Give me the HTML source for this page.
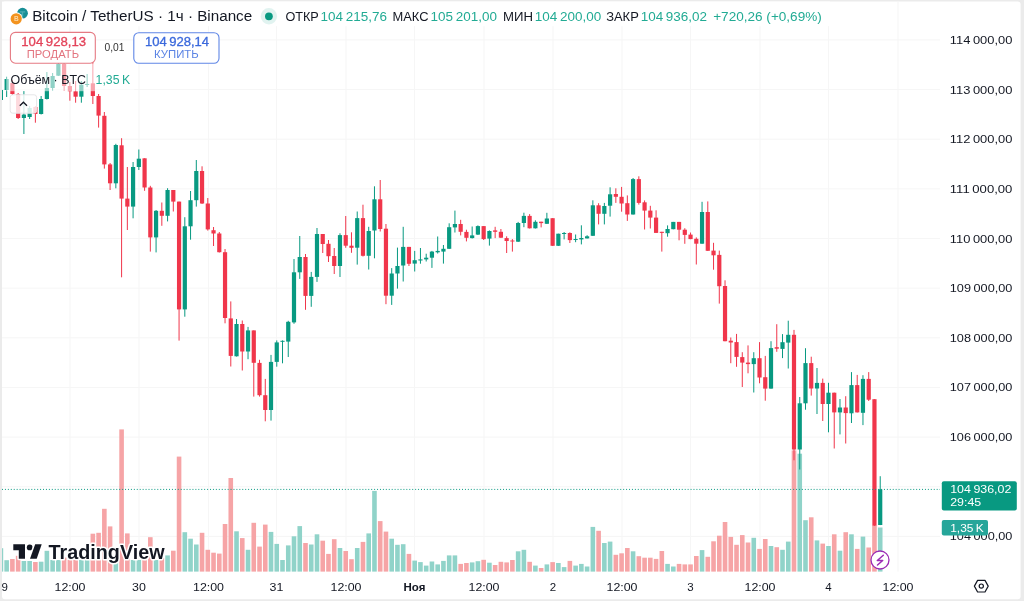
<!DOCTYPE html><html><head><meta charset="utf-8"><style>html,body{margin:0;padding:0;background:#ebebeb;}svg{display:block;will-change:transform;font-family:"Liberation Sans",sans-serif;}</style></head><body>
<svg width="1024" height="601" viewBox="0 0 1024 601">
<rect x="0" y="0" width="1024" height="601" fill="#ebebeb"/>
<rect x="2" y="1.6" width="1018.6" height="597.6" rx="3" fill="#ffffff"/>
<defs><clipPath id="pane"><rect x="2" y="1.6" width="938" height="570.2"/></clipPath></defs>
<g clip-path="url(#pane)"><rect x="2" y="39.40" width="938" height="1" fill="#f6f6f6"/><rect x="2" y="89.05" width="938" height="1" fill="#f6f6f6"/><rect x="2" y="138.70" width="938" height="1" fill="#f6f6f6"/><rect x="2" y="188.35" width="938" height="1" fill="#f6f6f6"/><rect x="2" y="238.00" width="938" height="1" fill="#f6f6f6"/><rect x="2" y="287.65" width="938" height="1" fill="#f6f6f6"/><rect x="2" y="337.30" width="938" height="1" fill="#f6f6f6"/><rect x="2" y="386.95" width="938" height="1" fill="#f6f6f6"/><rect x="2" y="436.60" width="938" height="1" fill="#f6f6f6"/><rect x="2" y="486.25" width="938" height="1" fill="#f6f6f6"/><rect x="2" y="535.90" width="938" height="1" fill="#f6f6f6"/><rect x="69.50" y="1.6" width="1" height="570.2" fill="#f6f6f6"/><rect x="138.50" y="1.6" width="1" height="570.2" fill="#f6f6f6"/><rect x="208.00" y="1.6" width="1" height="570.2" fill="#f6f6f6"/><rect x="276.00" y="1.6" width="1" height="570.2" fill="#f6f6f6"/><rect x="345.50" y="1.6" width="1" height="570.2" fill="#f6f6f6"/><rect x="414.00" y="1.6" width="1" height="570.2" fill="#f6f6f6"/><rect x="483.50" y="1.6" width="1" height="570.2" fill="#f6f6f6"/><rect x="552.50" y="1.6" width="1" height="570.2" fill="#f6f6f6"/><rect x="621.50" y="1.6" width="1" height="570.2" fill="#f6f6f6"/><rect x="690.00" y="1.6" width="1" height="570.2" fill="#f6f6f6"/><rect x="759.50" y="1.6" width="1" height="570.2" fill="#f6f6f6"/><rect x="828.00" y="1.6" width="1" height="570.2" fill="#f6f6f6"/><rect x="897.50" y="1.6" width="1" height="570.2" fill="#f6f6f6"/>
<rect x="-1.40" y="548.20" width="4.6" height="23.60" fill="#90d3c9"/><rect x="4.35" y="560.20" width="4.6" height="11.60" fill="#90d3c9"/><rect x="10.09" y="559.00" width="4.6" height="12.80" fill="#f6a4a6"/><rect x="15.84" y="555.80" width="4.6" height="16.00" fill="#f6a4a6"/><rect x="21.59" y="561.00" width="4.6" height="10.80" fill="#90d3c9"/><rect x="27.34" y="561.00" width="4.6" height="10.80" fill="#90d3c9"/><rect x="33.08" y="562.00" width="4.6" height="9.80" fill="#f6a4a6"/><rect x="38.83" y="561.70" width="4.6" height="10.10" fill="#90d3c9"/><rect x="44.58" y="550.80" width="4.6" height="21.00" fill="#90d3c9"/><rect x="50.32" y="560.00" width="4.6" height="11.80" fill="#90d3c9"/><rect x="56.07" y="560.00" width="4.6" height="11.80" fill="#90d3c9"/><rect x="61.82" y="557.60" width="4.6" height="14.20" fill="#f6a4a6"/><rect x="67.57" y="560.00" width="4.6" height="11.80" fill="#f6a4a6"/><rect x="73.31" y="560.00" width="4.6" height="11.80" fill="#f6a4a6"/><rect x="79.06" y="560.00" width="4.6" height="11.80" fill="#90d3c9"/><rect x="84.81" y="560.00" width="4.6" height="11.80" fill="#90d3c9"/><rect x="90.55" y="533.70" width="4.6" height="38.10" fill="#f6a4a6"/><rect x="96.30" y="532.80" width="4.6" height="39.00" fill="#f6a4a6"/><rect x="102.05" y="508.80" width="4.6" height="63.00" fill="#f6a4a6"/><rect x="107.79" y="526.40" width="4.6" height="45.40" fill="#f6a4a6"/><rect x="113.54" y="562.00" width="4.6" height="9.80" fill="#90d3c9"/><rect x="119.29" y="429.40" width="4.6" height="142.40" fill="#f6a4a6"/><rect x="125.04" y="533.40" width="4.6" height="38.40" fill="#f6a4a6"/><rect x="130.78" y="560.00" width="4.6" height="11.80" fill="#90d3c9"/><rect x="136.53" y="560.00" width="4.6" height="11.80" fill="#90d3c9"/><rect x="142.28" y="560.00" width="4.6" height="11.80" fill="#f6a4a6"/><rect x="148.02" y="537.20" width="4.6" height="34.60" fill="#f6a4a6"/><rect x="153.77" y="560.00" width="4.6" height="11.80" fill="#90d3c9"/><rect x="159.52" y="558.00" width="4.6" height="13.80" fill="#f6a4a6"/><rect x="165.27" y="555.40" width="4.6" height="16.40" fill="#90d3c9"/><rect x="171.01" y="550.70" width="4.6" height="21.10" fill="#f6a4a6"/><rect x="176.76" y="456.60" width="4.6" height="115.20" fill="#f6a4a6"/><rect x="182.51" y="532.20" width="4.6" height="39.60" fill="#90d3c9"/><rect x="188.25" y="538.70" width="4.6" height="33.10" fill="#90d3c9"/><rect x="194.00" y="544.50" width="4.6" height="27.30" fill="#90d3c9"/><rect x="199.75" y="532.80" width="4.6" height="39.00" fill="#f6a4a6"/><rect x="205.50" y="549.80" width="4.6" height="22.00" fill="#f6a4a6"/><rect x="211.24" y="552.70" width="4.6" height="19.10" fill="#f6a4a6"/><rect x="216.99" y="553.60" width="4.6" height="18.20" fill="#f6a4a6"/><rect x="222.74" y="524.00" width="4.6" height="47.80" fill="#f6a4a6"/><rect x="228.48" y="478.00" width="4.6" height="93.80" fill="#f6a4a6"/><rect x="234.23" y="531.30" width="4.6" height="40.50" fill="#90d3c9"/><rect x="239.98" y="538.10" width="4.6" height="33.70" fill="#f6a4a6"/><rect x="245.73" y="549.80" width="4.6" height="22.00" fill="#90d3c9"/><rect x="251.47" y="522.80" width="4.6" height="49.00" fill="#f6a4a6"/><rect x="257.22" y="546.60" width="4.6" height="25.20" fill="#f6a4a6"/><rect x="262.97" y="524.60" width="4.6" height="47.20" fill="#f6a4a6"/><rect x="268.71" y="531.90" width="4.6" height="39.90" fill="#90d3c9"/><rect x="274.46" y="543.90" width="4.6" height="27.90" fill="#90d3c9"/><rect x="280.21" y="560.00" width="4.6" height="11.80" fill="#90d3c9"/><rect x="285.95" y="545.40" width="4.6" height="26.40" fill="#90d3c9"/><rect x="291.70" y="536.30" width="4.6" height="35.50" fill="#90d3c9"/><rect x="297.45" y="526.10" width="4.6" height="45.70" fill="#90d3c9"/><rect x="303.20" y="543.00" width="4.6" height="28.80" fill="#f6a4a6"/><rect x="308.94" y="544.50" width="4.6" height="27.30" fill="#90d3c9"/><rect x="314.69" y="534.30" width="4.6" height="37.50" fill="#90d3c9"/><rect x="320.44" y="540.70" width="4.6" height="31.10" fill="#f6a4a6"/><rect x="326.18" y="553.90" width="4.6" height="17.90" fill="#f6a4a6"/><rect x="331.93" y="539.20" width="4.6" height="32.60" fill="#f6a4a6"/><rect x="337.68" y="548.00" width="4.6" height="23.80" fill="#90d3c9"/><rect x="343.43" y="551.00" width="4.6" height="20.80" fill="#f6a4a6"/><rect x="349.17" y="559.20" width="4.6" height="12.60" fill="#f6a4a6"/><rect x="354.92" y="548.00" width="4.6" height="23.80" fill="#90d3c9"/><rect x="360.67" y="541.90" width="4.6" height="29.90" fill="#f6a4a6"/><rect x="366.41" y="533.40" width="4.6" height="38.40" fill="#90d3c9"/><rect x="372.16" y="490.90" width="4.6" height="80.90" fill="#90d3c9"/><rect x="377.91" y="521.10" width="4.6" height="50.70" fill="#f6a4a6"/><rect x="383.66" y="531.60" width="4.6" height="40.20" fill="#f6a4a6"/><rect x="389.40" y="538.70" width="4.6" height="33.10" fill="#90d3c9"/><rect x="395.15" y="544.80" width="4.6" height="27.00" fill="#90d3c9"/><rect x="400.90" y="544.20" width="4.6" height="27.60" fill="#90d3c9"/><rect x="406.64" y="553.90" width="4.6" height="17.90" fill="#f6a4a6"/><rect x="412.39" y="560.60" width="4.6" height="11.20" fill="#90d3c9"/><rect x="418.14" y="562.10" width="4.6" height="9.70" fill="#90d3c9"/><rect x="423.89" y="565.60" width="4.6" height="6.20" fill="#90d3c9"/><rect x="429.63" y="561.50" width="4.6" height="10.30" fill="#90d3c9"/><rect x="435.38" y="564.40" width="4.6" height="7.40" fill="#90d3c9"/><rect x="441.13" y="560.90" width="4.6" height="10.90" fill="#90d3c9"/><rect x="446.87" y="555.40" width="4.6" height="16.40" fill="#90d3c9"/><rect x="452.62" y="555.40" width="4.6" height="16.40" fill="#90d3c9"/><rect x="458.37" y="563.90" width="4.6" height="7.90" fill="#f6a4a6"/><rect x="464.12" y="563.00" width="4.6" height="8.80" fill="#f6a4a6"/><rect x="469.86" y="562.40" width="4.6" height="9.40" fill="#90d3c9"/><rect x="475.61" y="561.20" width="4.6" height="10.60" fill="#90d3c9"/><rect x="481.36" y="559.80" width="4.6" height="12.00" fill="#f6a4a6"/><rect x="487.10" y="562.70" width="4.6" height="9.10" fill="#90d3c9"/><rect x="492.85" y="565.00" width="4.6" height="6.80" fill="#f6a4a6"/><rect x="498.60" y="561.80" width="4.6" height="10.00" fill="#f6a4a6"/><rect x="504.34" y="562.40" width="4.6" height="9.40" fill="#f6a4a6"/><rect x="510.09" y="560.00" width="4.6" height="11.80" fill="#f6a4a6"/><rect x="515.84" y="551.30" width="4.6" height="20.50" fill="#90d3c9"/><rect x="521.59" y="549.80" width="4.6" height="22.00" fill="#90d3c9"/><rect x="527.33" y="561.80" width="4.6" height="10.00" fill="#f6a4a6"/><rect x="533.08" y="565.60" width="4.6" height="6.20" fill="#90d3c9"/><rect x="538.83" y="568.00" width="4.6" height="3.80" fill="#f6a4a6"/><rect x="544.57" y="564.40" width="4.6" height="7.40" fill="#90d3c9"/><rect x="550.32" y="562.10" width="4.6" height="9.70" fill="#f6a4a6"/><rect x="556.07" y="563.00" width="4.6" height="8.80" fill="#90d3c9"/><rect x="561.82" y="567.10" width="4.6" height="4.70" fill="#90d3c9"/><rect x="567.56" y="560.90" width="4.6" height="10.90" fill="#f6a4a6"/><rect x="573.31" y="565.60" width="4.6" height="6.20" fill="#90d3c9"/><rect x="579.06" y="563.90" width="4.6" height="7.90" fill="#90d3c9"/><rect x="584.80" y="566.50" width="4.6" height="5.30" fill="#90d3c9"/><rect x="590.55" y="526.90" width="4.6" height="44.90" fill="#90d3c9"/><rect x="596.30" y="530.80" width="4.6" height="41.00" fill="#f6a4a6"/><rect x="602.05" y="543.00" width="4.6" height="28.80" fill="#90d3c9"/><rect x="607.79" y="541.60" width="4.6" height="30.20" fill="#90d3c9"/><rect x="613.54" y="554.80" width="4.6" height="17.00" fill="#f6a4a6"/><rect x="619.29" y="553.30" width="4.6" height="18.50" fill="#f6a4a6"/><rect x="625.03" y="548.00" width="4.6" height="23.80" fill="#f6a4a6"/><rect x="630.78" y="551.30" width="4.6" height="20.50" fill="#90d3c9"/><rect x="636.53" y="556.20" width="4.6" height="15.60" fill="#f6a4a6"/><rect x="642.28" y="557.70" width="4.6" height="14.10" fill="#f6a4a6"/><rect x="648.02" y="557.70" width="4.6" height="14.10" fill="#f6a4a6"/><rect x="653.77" y="558.90" width="4.6" height="12.90" fill="#f6a4a6"/><rect x="659.52" y="551.00" width="4.6" height="20.80" fill="#f6a4a6"/><rect x="665.26" y="563.90" width="4.6" height="7.90" fill="#90d3c9"/><rect x="671.01" y="566.50" width="4.6" height="5.30" fill="#90d3c9"/><rect x="676.76" y="563.90" width="4.6" height="7.90" fill="#f6a4a6"/><rect x="682.50" y="564.40" width="4.6" height="7.40" fill="#f6a4a6"/><rect x="688.25" y="564.40" width="4.6" height="7.40" fill="#f6a4a6"/><rect x="694.00" y="556.00" width="4.6" height="15.80" fill="#f6a4a6"/><rect x="699.75" y="550.10" width="4.6" height="21.70" fill="#90d3c9"/><rect x="705.49" y="556.80" width="4.6" height="15.00" fill="#f6a4a6"/><rect x="711.24" y="541.30" width="4.6" height="30.50" fill="#f6a4a6"/><rect x="716.99" y="535.70" width="4.6" height="36.10" fill="#f6a4a6"/><rect x="722.73" y="522.00" width="4.6" height="49.80" fill="#f6a4a6"/><rect x="728.48" y="536.90" width="4.6" height="34.90" fill="#f6a4a6"/><rect x="734.23" y="544.80" width="4.6" height="27.00" fill="#f6a4a6"/><rect x="739.98" y="535.10" width="4.6" height="36.70" fill="#f6a4a6"/><rect x="745.72" y="542.50" width="4.6" height="29.30" fill="#f6a4a6"/><rect x="751.47" y="537.80" width="4.6" height="34.00" fill="#90d3c9"/><rect x="757.22" y="548.90" width="4.6" height="22.90" fill="#f6a4a6"/><rect x="762.96" y="539.00" width="4.6" height="32.80" fill="#f6a4a6"/><rect x="768.71" y="546.00" width="4.6" height="25.80" fill="#90d3c9"/><rect x="774.46" y="547.20" width="4.6" height="24.60" fill="#f6a4a6"/><rect x="780.21" y="549.80" width="4.6" height="22.00" fill="#90d3c9"/><rect x="785.95" y="541.60" width="4.6" height="30.20" fill="#90d3c9"/><rect x="791.70" y="450.40" width="4.6" height="121.40" fill="#f6a4a6"/><rect x="797.45" y="453.70" width="4.6" height="118.10" fill="#90d3c9"/><rect x="803.19" y="520.20" width="4.6" height="51.60" fill="#90d3c9"/><rect x="808.94" y="517.30" width="4.6" height="54.50" fill="#f6a4a6"/><rect x="814.69" y="540.40" width="4.6" height="31.40" fill="#90d3c9"/><rect x="820.44" y="543.60" width="4.6" height="28.20" fill="#f6a4a6"/><rect x="826.18" y="546.00" width="4.6" height="25.80" fill="#90d3c9"/><rect x="831.93" y="534.30" width="4.6" height="37.50" fill="#f6a4a6"/><rect x="837.68" y="550.70" width="4.6" height="21.10" fill="#90d3c9"/><rect x="843.42" y="532.20" width="4.6" height="39.60" fill="#f6a4a6"/><rect x="849.17" y="534.30" width="4.6" height="37.50" fill="#90d3c9"/><rect x="854.92" y="548.90" width="4.6" height="22.90" fill="#f6a4a6"/><rect x="860.66" y="536.60" width="4.6" height="35.20" fill="#90d3c9"/><rect x="866.41" y="547.50" width="4.6" height="24.30" fill="#f6a4a6"/><rect x="872.16" y="525.50" width="4.6" height="46.30" fill="#f6a4a6"/><rect x="877.91" y="527.50" width="4.6" height="44.30" fill="#90d3c9"/>
<rect x="0.40" y="88.00" width="1" height="13.00" fill="#089981"/><rect x="-1.20" y="90.00" width="4.2" height="10.00" fill="#089981"/><rect x="6.15" y="76.70" width="1" height="20.30" fill="#089981"/><rect x="4.55" y="79.00" width="4.2" height="11.00" fill="#089981"/><rect x="11.89" y="80.00" width="1" height="15.00" fill="#f0364b"/><rect x="10.29" y="83.00" width="4.2" height="11.00" fill="#f0364b"/><rect x="17.64" y="93.00" width="1" height="26.00" fill="#f0364b"/><rect x="16.04" y="94.00" width="4.2" height="24.00" fill="#f0364b"/><rect x="23.39" y="91.00" width="1" height="43.00" fill="#089981"/><rect x="21.79" y="114.60" width="4.2" height="3.40" fill="#089981"/><rect x="29.14" y="106.00" width="1" height="13.00" fill="#089981"/><rect x="27.54" y="108.00" width="4.2" height="9.00" fill="#089981"/><rect x="34.88" y="106.00" width="1" height="16.70" fill="#f0364b"/><rect x="33.28" y="107.00" width="4.2" height="7.00" fill="#f0364b"/><rect x="40.63" y="96.00" width="1" height="18.50" fill="#089981"/><rect x="39.03" y="99.00" width="4.2" height="15.00" fill="#089981"/><rect x="46.38" y="72.00" width="1" height="27.50" fill="#089981"/><rect x="44.78" y="88.00" width="4.2" height="11.00" fill="#089981"/><rect x="52.12" y="73.00" width="1" height="17.70" fill="#089981"/><rect x="50.52" y="76.00" width="4.2" height="12.00" fill="#089981"/><rect x="57.87" y="62.00" width="1" height="14.00" fill="#089981"/><rect x="56.27" y="64.00" width="4.2" height="11.70" fill="#089981"/><rect x="63.62" y="62.00" width="1" height="29.00" fill="#f0364b"/><rect x="62.02" y="64.00" width="4.2" height="22.00" fill="#f0364b"/><rect x="69.37" y="82.00" width="1" height="18.70" fill="#f0364b"/><rect x="67.77" y="86.00" width="4.2" height="5.30" fill="#f0364b"/><rect x="75.11" y="81.00" width="1" height="21.70" fill="#f0364b"/><rect x="73.51" y="91.30" width="4.2" height="5.40" fill="#f0364b"/><rect x="80.86" y="81.00" width="1" height="21.70" fill="#089981"/><rect x="79.26" y="84.70" width="4.2" height="12.00" fill="#089981"/><rect x="86.61" y="74.00" width="1" height="13.00" fill="#089981"/><rect x="85.01" y="84.00" width="4.2" height="1.00" fill="#089981"/><rect x="92.35" y="58.00" width="1" height="46.00" fill="#f0364b"/><rect x="90.75" y="83.30" width="4.2" height="12.70" fill="#f0364b"/><rect x="98.10" y="94.00" width="1" height="33.60" fill="#f0364b"/><rect x="96.50" y="96.00" width="4.2" height="19.60" fill="#f0364b"/><rect x="103.85" y="112.00" width="1" height="56.60" fill="#f0364b"/><rect x="102.25" y="115.80" width="4.2" height="48.60" fill="#f0364b"/><rect x="109.59" y="163.00" width="1" height="27.00" fill="#f0364b"/><rect x="107.99" y="164.40" width="4.2" height="18.90" fill="#f0364b"/><rect x="115.34" y="143.80" width="1" height="44.50" fill="#089981"/><rect x="113.74" y="145.00" width="4.2" height="38.30" fill="#089981"/><rect x="121.09" y="138.20" width="1" height="139.10" fill="#f0364b"/><rect x="119.49" y="145.30" width="4.2" height="53.30" fill="#f0364b"/><rect x="126.84" y="167.00" width="1" height="63.00" fill="#f0364b"/><rect x="125.24" y="198.60" width="4.2" height="8.00" fill="#f0364b"/><rect x="132.58" y="162.00" width="1" height="56.30" fill="#089981"/><rect x="130.98" y="167.00" width="4.2" height="39.60" fill="#089981"/><rect x="138.33" y="149.50" width="1" height="20.50" fill="#089981"/><rect x="136.73" y="158.70" width="4.2" height="8.30" fill="#089981"/><rect x="144.08" y="158.30" width="1" height="32.50" fill="#f0364b"/><rect x="142.48" y="158.30" width="4.2" height="29.20" fill="#f0364b"/><rect x="149.82" y="185.80" width="1" height="65.80" fill="#f0364b"/><rect x="148.22" y="187.50" width="4.2" height="49.90" fill="#f0364b"/><rect x="155.57" y="210.00" width="1" height="42.40" fill="#089981"/><rect x="153.97" y="210.80" width="4.2" height="26.60" fill="#089981"/><rect x="161.32" y="202.50" width="1" height="23.30" fill="#f0364b"/><rect x="159.72" y="210.80" width="4.2" height="5.00" fill="#f0364b"/><rect x="167.07" y="188.20" width="1" height="33.20" fill="#089981"/><rect x="165.47" y="190.00" width="4.2" height="25.80" fill="#089981"/><rect x="172.81" y="190.00" width="1" height="21.50" fill="#f0364b"/><rect x="171.21" y="190.00" width="4.2" height="11.60" fill="#f0364b"/><rect x="178.56" y="201.60" width="1" height="139.00" fill="#f0364b"/><rect x="176.96" y="201.60" width="4.2" height="107.80" fill="#f0364b"/><rect x="184.31" y="217.20" width="1" height="99.50" fill="#089981"/><rect x="182.71" y="226.30" width="4.2" height="83.10" fill="#089981"/><rect x="190.05" y="191.00" width="1" height="48.70" fill="#089981"/><rect x="188.45" y="200.20" width="4.2" height="26.10" fill="#089981"/><rect x="195.80" y="160.00" width="1" height="46.60" fill="#089981"/><rect x="194.20" y="171.00" width="4.2" height="29.20" fill="#089981"/><rect x="201.55" y="166.30" width="1" height="37.70" fill="#f0364b"/><rect x="199.95" y="171.00" width="4.2" height="32.50" fill="#f0364b"/><rect x="207.30" y="198.00" width="1" height="32.60" fill="#f0364b"/><rect x="205.70" y="203.50" width="4.2" height="25.90" fill="#f0364b"/><rect x="213.04" y="227.00" width="1" height="19.00" fill="#f0364b"/><rect x="211.44" y="230.20" width="4.2" height="3.30" fill="#f0364b"/><rect x="218.79" y="232.00" width="1" height="20.50" fill="#f0364b"/><rect x="217.19" y="233.50" width="4.2" height="18.70" fill="#f0364b"/><rect x="224.54" y="249.00" width="1" height="74.30" fill="#f0364b"/><rect x="222.94" y="252.20" width="4.2" height="65.80" fill="#f0364b"/><rect x="230.28" y="301.40" width="1" height="65.10" fill="#f0364b"/><rect x="228.68" y="318.40" width="4.2" height="37.50" fill="#f0364b"/><rect x="236.03" y="319.00" width="1" height="37.50" fill="#089981"/><rect x="234.43" y="324.00" width="4.2" height="32.30" fill="#089981"/><rect x="241.78" y="320.50" width="1" height="50.00" fill="#f0364b"/><rect x="240.18" y="324.00" width="4.2" height="27.50" fill="#f0364b"/><rect x="247.53" y="326.90" width="1" height="32.30" fill="#089981"/><rect x="245.93" y="330.40" width="4.2" height="21.10" fill="#089981"/><rect x="253.27" y="330.40" width="1" height="66.20" fill="#f0364b"/><rect x="251.67" y="330.40" width="4.2" height="32.40" fill="#f0364b"/><rect x="259.02" y="359.80" width="1" height="36.80" fill="#f0364b"/><rect x="257.42" y="362.90" width="4.2" height="32.30" fill="#f0364b"/><rect x="264.77" y="378.90" width="1" height="42.40" fill="#f0364b"/><rect x="263.17" y="395.20" width="4.2" height="14.80" fill="#f0364b"/><rect x="270.51" y="354.90" width="1" height="65.70" fill="#089981"/><rect x="268.91" y="361.90" width="4.2" height="48.10" fill="#089981"/><rect x="276.26" y="340.40" width="1" height="26.30" fill="#089981"/><rect x="274.66" y="342.40" width="4.2" height="19.50" fill="#089981"/><rect x="282.01" y="340.40" width="1" height="22.90" fill="#089981"/><rect x="280.41" y="340.80" width="4.2" height="1.00" fill="#089981"/><rect x="287.75" y="320.80" width="1" height="36.20" fill="#089981"/><rect x="286.15" y="321.80" width="4.2" height="19.80" fill="#089981"/><rect x="293.50" y="259.00" width="1" height="64.80" fill="#089981"/><rect x="291.90" y="272.30" width="4.2" height="50.10" fill="#089981"/><rect x="299.25" y="236.00" width="1" height="42.90" fill="#089981"/><rect x="297.65" y="257.00" width="4.2" height="15.30" fill="#089981"/><rect x="305.00" y="254.00" width="1" height="55.80" fill="#f0364b"/><rect x="303.40" y="257.00" width="4.2" height="38.90" fill="#f0364b"/><rect x="310.74" y="271.90" width="1" height="34.90" fill="#089981"/><rect x="309.14" y="276.90" width="4.2" height="19.00" fill="#089981"/><rect x="316.49" y="228.00" width="1" height="53.90" fill="#089981"/><rect x="314.89" y="234.00" width="4.2" height="42.90" fill="#089981"/><rect x="322.24" y="234.00" width="1" height="19.00" fill="#f0364b"/><rect x="320.64" y="234.00" width="4.2" height="10.00" fill="#f0364b"/><rect x="327.98" y="240.00" width="1" height="22.00" fill="#f0364b"/><rect x="326.38" y="243.80" width="4.2" height="12.40" fill="#f0364b"/><rect x="333.73" y="248.00" width="1" height="26.00" fill="#f0364b"/><rect x="332.13" y="256.00" width="4.2" height="10.00" fill="#f0364b"/><rect x="339.48" y="233.30" width="1" height="43.70" fill="#089981"/><rect x="337.88" y="235.10" width="4.2" height="30.90" fill="#089981"/><rect x="345.23" y="216.00" width="1" height="31.80" fill="#f0364b"/><rect x="343.63" y="235.10" width="4.2" height="10.60" fill="#f0364b"/><rect x="350.97" y="232.30" width="1" height="20.50" fill="#f0364b"/><rect x="349.37" y="245.70" width="4.2" height="2.10" fill="#f0364b"/><rect x="356.72" y="211.50" width="1" height="53.10" fill="#089981"/><rect x="355.12" y="218.10" width="4.2" height="29.60" fill="#089981"/><rect x="362.47" y="204.70" width="1" height="51.80" fill="#f0364b"/><rect x="360.87" y="218.10" width="4.2" height="37.70" fill="#f0364b"/><rect x="368.21" y="226.80" width="1" height="42.70" fill="#089981"/><rect x="366.61" y="231.00" width="4.2" height="24.80" fill="#089981"/><rect x="373.96" y="186.30" width="1" height="72.00" fill="#089981"/><rect x="372.36" y="199.30" width="4.2" height="31.20" fill="#089981"/><rect x="379.71" y="180.00" width="1" height="51.50" fill="#f0364b"/><rect x="378.11" y="199.30" width="4.2" height="29.70" fill="#f0364b"/><rect x="385.46" y="224.00" width="1" height="80.20" fill="#f0364b"/><rect x="383.86" y="228.70" width="4.2" height="67.00" fill="#f0364b"/><rect x="391.20" y="268.10" width="1" height="36.80" fill="#089981"/><rect x="389.60" y="273.50" width="4.2" height="22.20" fill="#089981"/><rect x="396.95" y="247.60" width="1" height="41.00" fill="#089981"/><rect x="395.35" y="266.00" width="4.2" height="7.50" fill="#089981"/><rect x="402.70" y="226.80" width="1" height="54.70" fill="#089981"/><rect x="401.10" y="246.90" width="4.2" height="18.60" fill="#089981"/><rect x="408.44" y="246.90" width="1" height="19.10" fill="#f0364b"/><rect x="406.84" y="246.90" width="4.2" height="16.90" fill="#f0364b"/><rect x="414.19" y="250.90" width="1" height="20.60" fill="#089981"/><rect x="412.59" y="260.20" width="4.2" height="3.40" fill="#089981"/><rect x="419.94" y="248.00" width="1" height="15.70" fill="#089981"/><rect x="418.34" y="259.40" width="4.2" height="1.10" fill="#089981"/><rect x="425.69" y="253.70" width="1" height="7.80" fill="#089981"/><rect x="424.09" y="257.70" width="4.2" height="1.70" fill="#089981"/><rect x="431.43" y="250.90" width="1" height="17.00" fill="#089981"/><rect x="429.83" y="251.60" width="4.2" height="6.10" fill="#089981"/><rect x="437.18" y="236.50" width="1" height="17.00" fill="#089981"/><rect x="435.58" y="250.90" width="4.2" height="1.40" fill="#089981"/><rect x="442.93" y="245.00" width="1" height="18.60" fill="#089981"/><rect x="441.33" y="248.80" width="4.2" height="2.80" fill="#089981"/><rect x="448.67" y="223.30" width="1" height="25.70" fill="#089981"/><rect x="447.07" y="227.20" width="4.2" height="21.60" fill="#089981"/><rect x="454.42" y="210.60" width="1" height="21.90" fill="#089981"/><rect x="452.82" y="224.00" width="4.2" height="3.40" fill="#089981"/><rect x="460.17" y="219.80" width="1" height="15.60" fill="#f0364b"/><rect x="458.57" y="224.00" width="4.2" height="7.80" fill="#f0364b"/><rect x="465.92" y="229.70" width="1" height="11.70" fill="#f0364b"/><rect x="464.32" y="231.90" width="4.2" height="5.90" fill="#f0364b"/><rect x="471.66" y="226.50" width="1" height="12.00" fill="#089981"/><rect x="470.06" y="235.40" width="4.2" height="2.70" fill="#089981"/><rect x="477.41" y="225.40" width="1" height="9.60" fill="#089981"/><rect x="475.81" y="226.10" width="4.2" height="8.50" fill="#089981"/><rect x="483.16" y="226.10" width="1" height="13.90" fill="#f0364b"/><rect x="481.56" y="226.10" width="4.2" height="13.00" fill="#f0364b"/><rect x="488.90" y="230.40" width="1" height="15.20" fill="#089981"/><rect x="487.30" y="231.00" width="4.2" height="7.60" fill="#089981"/><rect x="494.65" y="226.80" width="1" height="11.30" fill="#f0364b"/><rect x="493.05" y="230.40" width="4.2" height="1.40" fill="#f0364b"/><rect x="500.40" y="229.00" width="1" height="9.00" fill="#f0364b"/><rect x="498.80" y="231.80" width="4.2" height="5.90" fill="#f0364b"/><rect x="506.14" y="236.30" width="1" height="16.70" fill="#f0364b"/><rect x="504.54" y="238.10" width="4.2" height="2.90" fill="#f0364b"/><rect x="511.89" y="239.10" width="1" height="12.50" fill="#f0364b"/><rect x="510.29" y="240.50" width="4.2" height="1.00" fill="#f0364b"/><rect x="517.64" y="221.90" width="1" height="20.10" fill="#089981"/><rect x="516.04" y="223.00" width="4.2" height="18.70" fill="#089981"/><rect x="523.39" y="212.70" width="1" height="14.50" fill="#089981"/><rect x="521.79" y="215.90" width="4.2" height="7.10" fill="#089981"/><rect x="529.13" y="214.10" width="1" height="14.40" fill="#f0364b"/><rect x="527.53" y="215.90" width="4.2" height="12.40" fill="#f0364b"/><rect x="534.88" y="220.30" width="1" height="8.20" fill="#089981"/><rect x="533.28" y="221.80" width="4.2" height="6.50" fill="#089981"/><rect x="540.63" y="221.70" width="1" height="5.70" fill="#f0364b"/><rect x="539.03" y="221.70" width="4.2" height="1.40" fill="#f0364b"/><rect x="546.37" y="212.80" width="1" height="11.20" fill="#089981"/><rect x="544.77" y="218.50" width="4.2" height="5.30" fill="#089981"/><rect x="552.12" y="218.20" width="1" height="27.80" fill="#f0364b"/><rect x="550.52" y="218.20" width="4.2" height="27.60" fill="#f0364b"/><rect x="557.87" y="233.70" width="1" height="12.30" fill="#089981"/><rect x="556.27" y="233.70" width="4.2" height="12.10" fill="#089981"/><rect x="563.62" y="232.00" width="1" height="7.40" fill="#089981"/><rect x="562.02" y="233.00" width="4.2" height="1.00" fill="#089981"/><rect x="569.36" y="232.30" width="1" height="10.70" fill="#f0364b"/><rect x="567.76" y="233.00" width="4.2" height="7.10" fill="#f0364b"/><rect x="575.11" y="234.50" width="1" height="7.70" fill="#089981"/><rect x="573.51" y="239.00" width="4.2" height="1.00" fill="#089981"/><rect x="580.86" y="225.30" width="1" height="19.10" fill="#089981"/><rect x="579.26" y="238.00" width="4.2" height="1.40" fill="#089981"/><rect x="586.60" y="235.20" width="1" height="3.30" fill="#089981"/><rect x="585.00" y="236.30" width="4.2" height="2.10" fill="#089981"/><rect x="592.35" y="200.30" width="1" height="35.70" fill="#089981"/><rect x="590.75" y="205.30" width="4.2" height="30.50" fill="#089981"/><rect x="598.10" y="203.20" width="1" height="21.20" fill="#f0364b"/><rect x="596.50" y="205.30" width="4.2" height="8.50" fill="#f0364b"/><rect x="603.85" y="202.90" width="1" height="21.50" fill="#089981"/><rect x="602.25" y="206.00" width="4.2" height="7.80" fill="#089981"/><rect x="609.59" y="187.30" width="1" height="29.30" fill="#089981"/><rect x="607.99" y="194.30" width="4.2" height="11.40" fill="#089981"/><rect x="615.34" y="188.30" width="1" height="14.60" fill="#f0364b"/><rect x="613.74" y="194.00" width="4.2" height="2.80" fill="#f0364b"/><rect x="621.09" y="186.90" width="1" height="24.80" fill="#f0364b"/><rect x="619.49" y="196.80" width="4.2" height="6.70" fill="#f0364b"/><rect x="626.83" y="195.40" width="1" height="25.50" fill="#f0364b"/><rect x="625.23" y="203.20" width="4.2" height="11.30" fill="#f0364b"/><rect x="632.58" y="178.00" width="1" height="36.60" fill="#089981"/><rect x="630.98" y="179.10" width="4.2" height="35.40" fill="#089981"/><rect x="638.33" y="176.30" width="1" height="28.30" fill="#f0364b"/><rect x="636.73" y="179.10" width="4.2" height="23.80" fill="#f0364b"/><rect x="644.08" y="200.40" width="1" height="29.10" fill="#f0364b"/><rect x="642.48" y="202.30" width="4.2" height="8.30" fill="#f0364b"/><rect x="649.82" y="205.80" width="1" height="22.70" fill="#f0364b"/><rect x="648.22" y="210.60" width="4.2" height="7.00" fill="#f0364b"/><rect x="655.57" y="210.30" width="1" height="22.70" fill="#f0364b"/><rect x="653.97" y="217.60" width="4.2" height="15.30" fill="#f0364b"/><rect x="661.32" y="231.80" width="1" height="19.80" fill="#f0364b"/><rect x="659.72" y="231.80" width="4.2" height="1.10" fill="#f0364b"/><rect x="667.06" y="225.40" width="1" height="11.30" fill="#089981"/><rect x="665.46" y="229.00" width="4.2" height="4.20" fill="#089981"/><rect x="672.81" y="221.90" width="1" height="7.40" fill="#089981"/><rect x="671.21" y="221.90" width="4.2" height="7.30" fill="#089981"/><rect x="678.56" y="221.90" width="1" height="18.40" fill="#f0364b"/><rect x="676.96" y="221.90" width="4.2" height="7.80" fill="#f0364b"/><rect x="684.30" y="228.20" width="1" height="15.60" fill="#f0364b"/><rect x="682.70" y="229.70" width="4.2" height="5.20" fill="#f0364b"/><rect x="690.05" y="232.50" width="1" height="6.70" fill="#f0364b"/><rect x="688.45" y="234.60" width="4.2" height="4.50" fill="#f0364b"/><rect x="695.80" y="237.40" width="1" height="27.10" fill="#f0364b"/><rect x="694.20" y="238.80" width="4.2" height="4.90" fill="#f0364b"/><rect x="701.55" y="201.80" width="1" height="42.00" fill="#089981"/><rect x="699.95" y="212.00" width="4.2" height="31.70" fill="#089981"/><rect x="707.29" y="201.40" width="1" height="49.50" fill="#f0364b"/><rect x="705.69" y="212.00" width="4.2" height="38.80" fill="#f0364b"/><rect x="713.04" y="242.80" width="1" height="26.90" fill="#f0364b"/><rect x="711.44" y="250.60" width="4.2" height="4.70" fill="#f0364b"/><rect x="718.79" y="250.60" width="1" height="53.00" fill="#f0364b"/><rect x="717.19" y="254.90" width="4.2" height="31.30" fill="#f0364b"/><rect x="724.53" y="280.30" width="1" height="61.00" fill="#f0364b"/><rect x="722.93" y="286.00" width="4.2" height="55.20" fill="#f0364b"/><rect x="730.28" y="337.50" width="1" height="25.70" fill="#f0364b"/><rect x="728.68" y="340.70" width="4.2" height="1.80" fill="#f0364b"/><rect x="736.03" y="333.90" width="1" height="32.90" fill="#f0364b"/><rect x="734.43" y="342.10" width="4.2" height="14.80" fill="#f0364b"/><rect x="741.78" y="352.20" width="1" height="34.80" fill="#f0364b"/><rect x="740.18" y="357.10" width="4.2" height="5.50" fill="#f0364b"/><rect x="747.52" y="345.40" width="1" height="27.90" fill="#f0364b"/><rect x="745.92" y="362.60" width="4.2" height="1.50" fill="#f0364b"/><rect x="753.27" y="352.20" width="1" height="40.30" fill="#089981"/><rect x="751.67" y="358.20" width="4.2" height="5.90" fill="#089981"/><rect x="759.02" y="342.10" width="1" height="41.20" fill="#f0364b"/><rect x="757.42" y="358.20" width="4.2" height="19.30" fill="#f0364b"/><rect x="764.76" y="355.90" width="1" height="44.80" fill="#f0364b"/><rect x="763.16" y="377.20" width="4.2" height="11.40" fill="#f0364b"/><rect x="770.51" y="341.20" width="1" height="47.50" fill="#089981"/><rect x="768.91" y="348.10" width="4.2" height="40.50" fill="#089981"/><rect x="776.26" y="324.20" width="1" height="27.60" fill="#f0364b"/><rect x="774.66" y="347.20" width="4.2" height="1.50" fill="#f0364b"/><rect x="782.01" y="334.10" width="1" height="24.00" fill="#089981"/><rect x="780.41" y="342.20" width="4.2" height="6.70" fill="#089981"/><rect x="787.75" y="320.70" width="1" height="47.80" fill="#089981"/><rect x="786.15" y="334.80" width="4.2" height="7.80" fill="#089981"/><rect x="793.50" y="329.90" width="1" height="130.40" fill="#f0364b"/><rect x="791.90" y="334.80" width="4.2" height="114.70" fill="#f0364b"/><rect x="799.25" y="397.00" width="1" height="72.50" fill="#089981"/><rect x="797.65" y="403.30" width="4.2" height="46.20" fill="#089981"/><rect x="804.99" y="348.20" width="1" height="61.50" fill="#089981"/><rect x="803.39" y="363.10" width="4.2" height="40.20" fill="#089981"/><rect x="810.74" y="356.70" width="1" height="38.90" fill="#f0364b"/><rect x="809.14" y="363.10" width="4.2" height="25.40" fill="#f0364b"/><rect x="816.49" y="368.00" width="1" height="46.00" fill="#089981"/><rect x="814.89" y="382.90" width="4.2" height="5.60" fill="#089981"/><rect x="822.24" y="378.60" width="1" height="42.40" fill="#f0364b"/><rect x="820.64" y="382.90" width="4.2" height="21.10" fill="#f0364b"/><rect x="827.98" y="382.80" width="1" height="49.50" fill="#089981"/><rect x="826.38" y="392.70" width="4.2" height="11.30" fill="#089981"/><rect x="833.73" y="392.60" width="1" height="55.90" fill="#f0364b"/><rect x="832.13" y="392.70" width="4.2" height="19.70" fill="#f0364b"/><rect x="839.48" y="399.00" width="1" height="35.40" fill="#089981"/><rect x="837.88" y="407.50" width="4.2" height="4.90" fill="#089981"/><rect x="845.22" y="396.20" width="1" height="47.30" fill="#f0364b"/><rect x="843.62" y="407.50" width="4.2" height="5.60" fill="#f0364b"/><rect x="850.97" y="372.10" width="1" height="50.90" fill="#089981"/><rect x="849.37" y="385.10" width="4.2" height="28.20" fill="#089981"/><rect x="856.72" y="374.90" width="1" height="37.60" fill="#f0364b"/><rect x="855.12" y="385.10" width="4.2" height="27.30" fill="#f0364b"/><rect x="862.46" y="375.20" width="1" height="49.90" fill="#089981"/><rect x="860.86" y="378.90" width="4.2" height="33.90" fill="#089981"/><rect x="868.21" y="372.10" width="1" height="28.90" fill="#f0364b"/><rect x="866.61" y="378.90" width="4.2" height="20.80" fill="#f0364b"/><rect x="873.96" y="399.20" width="1" height="126.60" fill="#f0364b"/><rect x="872.36" y="399.20" width="4.2" height="126.50" fill="#f0364b"/><rect x="879.71" y="476.20" width="1" height="48.90" fill="#089981"/><rect x="878.11" y="489.30" width="4.2" height="35.70" fill="#089981"/>
<line x1="2" y1="489.4" x2="940" y2="489.4" stroke="#089981" stroke-width="1" stroke-dasharray="1 1.93"/>
</g>
<rect x="2" y="1.6" width="828" height="24.6" fill="#ffffff"/>
<rect x="6.3" y="63.6" width="128" height="27.6" fill="#ffffff" fill-opacity="0.55"/>
<rect x="10.2" y="94.8" width="26.4" height="18.4" rx="2.5" fill="#ffffff" fill-opacity="0.82" stroke="#e6e6e8" stroke-width="1"/>
<path d="M19.8 105.7 L23.4 102.2 L27.0 105.7" fill="none" stroke="#131722" stroke-width="1.3"/>
<rect x="10.4" y="32.4" width="84.9" height="30.8" rx="5" fill="#ffffff" stroke="#e57a83" stroke-width="1.1"/>
<rect x="133.8" y="32.7" width="85.2" height="30.6" rx="5" fill="#ffffff" stroke="#6087e6" stroke-width="1.1"/>
<text x="21.3" y="45.6" font-size="12" fill="#e3445a" textLength="64.8" lengthAdjust="spacingAndGlyphs" stroke="#e3445a" stroke-width="0.3">104 928,13</text>
<text x="26.8" y="58.3" font-size="10" fill="#e3737e" textLength="52.2" lengthAdjust="spacingAndGlyphs">ПРОДАТЬ</text>
<text x="144.9" y="45.6" font-size="12" fill="#3b69dc" textLength="64.2" lengthAdjust="spacingAndGlyphs" stroke="#3b69dc" stroke-width="0.3">104 928,14</text>
<text x="154.1" y="58.3" font-size="10" fill="#5a83e4" textLength="44.6" lengthAdjust="spacingAndGlyphs">КУПИТЬ</text>
<text x="104.5" y="51.2" font-size="10.5" fill="#333333" textLength="20.0" lengthAdjust="spacingAndGlyphs">0,01</text>
<text x="10.6" y="83.9" font-size="12" fill="#131722" textLength="75.4" lengthAdjust="spacingAndGlyphs">Объём · BTC</text>
<text x="95.6" y="83.9" font-size="12" fill="#22ab94" textLength="34.6" lengthAdjust="spacingAndGlyphs">1,35 K</text>
<text x="32.2" y="21.3" font-size="14" fill="#131722" textLength="220.0" lengthAdjust="spacingAndGlyphs">Bitcoin / TetherUS · 1ч · Binance</text>
<circle cx="268.9" cy="16.3" r="8.2" fill="#089981" fill-opacity="0.12"/>
<circle cx="268.9" cy="16.3" r="3.9" fill="#089981"/>
<text x="285.4" y="20.65" font-size="12" fill="#131722" textLength="33.4" lengthAdjust="spacingAndGlyphs">ОТКР</text>
<text x="320.6" y="20.65" font-size="12" fill="#22ab94" textLength="66.4" lengthAdjust="spacingAndGlyphs">104 215,76</text>
<text x="392.5" y="20.65" font-size="12" fill="#131722" textLength="36.0" lengthAdjust="spacingAndGlyphs">МАКС</text>
<text x="430.6" y="20.65" font-size="12" fill="#22ab94" textLength="66.4" lengthAdjust="spacingAndGlyphs">105 201,00</text>
<text x="503.0" y="20.65" font-size="12" fill="#131722" textLength="30.0" lengthAdjust="spacingAndGlyphs">МИН</text>
<text x="534.8" y="20.65" font-size="12" fill="#22ab94" textLength="66.4" lengthAdjust="spacingAndGlyphs">104 200,00</text>
<text x="606.2" y="20.65" font-size="12" fill="#131722" textLength="32.6" lengthAdjust="spacingAndGlyphs">ЗАКР</text>
<text x="640.7" y="20.65" font-size="12" fill="#22ab94" textLength="66.4" lengthAdjust="spacingAndGlyphs">104 936,02</text>
<text x="713.2" y="20.65" font-size="12" fill="#22ab94" textLength="108.6" lengthAdjust="spacingAndGlyphs">+720,26 (+0,69%)</text>
<circle cx="22.5" cy="13.2" r="5.4" fill="#178e96"/>
<path d="M19.8 11.2 H25.2 V12.6 H23.2 V16.2 H21.8 V12.6 H19.8 Z" fill="#bff0ef" fill-opacity="0.3"/>
<circle cx="16.2" cy="18.8" r="6.6" fill="#ffffff"/>
<circle cx="16.2" cy="18.8" r="5.6" fill="#f3931f"/>
<text x="16.3" y="21.2" font-size="6.5" font-weight="bold" fill="#fbd9a6" text-anchor="middle">B</text>
<text x="949.8" y="43.90" font-size="11.4" fill="#131722" textLength="62.6" lengthAdjust="spacingAndGlyphs">114 000,00</text>
<text x="949.8" y="93.55" font-size="11.4" fill="#131722" textLength="62.6" lengthAdjust="spacingAndGlyphs">113 000,00</text>
<text x="949.8" y="143.20" font-size="11.4" fill="#131722" textLength="62.6" lengthAdjust="spacingAndGlyphs">112 000,00</text>
<text x="949.8" y="192.85" font-size="11.4" fill="#131722" textLength="62.6" lengthAdjust="spacingAndGlyphs">111 000,00</text>
<text x="949.8" y="242.50" font-size="11.4" fill="#131722" textLength="62.6" lengthAdjust="spacingAndGlyphs">110 000,00</text>
<text x="949.8" y="292.15" font-size="11.4" fill="#131722" textLength="62.6" lengthAdjust="spacingAndGlyphs">109 000,00</text>
<text x="949.8" y="341.80" font-size="11.4" fill="#131722" textLength="62.6" lengthAdjust="spacingAndGlyphs">108 000,00</text>
<text x="949.8" y="391.45" font-size="11.4" fill="#131722" textLength="62.6" lengthAdjust="spacingAndGlyphs">107 000,00</text>
<text x="949.8" y="441.10" font-size="11.4" fill="#131722" textLength="62.6" lengthAdjust="spacingAndGlyphs">106 000,00</text>
<text x="949.8" y="490.75" font-size="11.4" fill="#131722" textLength="62.6" lengthAdjust="spacingAndGlyphs">105 000,00</text>
<text x="949.8" y="540.40" font-size="11.4" fill="#131722" textLength="62.6" lengthAdjust="spacingAndGlyphs">104 000,00</text>
<rect x="941.8" y="481.2" width="75" height="29.4" rx="2" fill="#089981"/>
<text x="950.2" y="492.7" font-size="11" fill="#ffffff" textLength="61.2" lengthAdjust="spacingAndGlyphs">104 936,02</text>
<text x="950.2" y="506.0" font-size="11" fill="#ffffff" textLength="31.0" lengthAdjust="spacingAndGlyphs">29:45</text>
<rect x="941.8" y="520" width="46.2" height="15.5" rx="2" fill="#26a69a"/>
<text x="950.2" y="531.6" font-size="11" fill="#ffffff" textLength="33.6" lengthAdjust="spacingAndGlyphs">1,35 K</text>
<text x="70" y="590.7" font-size="11.5" fill="#131722" textLength="31.0" lengthAdjust="spacingAndGlyphs" text-anchor="middle">12:00</text>
<text x="139" y="590.7" font-size="11.5" fill="#131722" textLength="13.8" lengthAdjust="spacingAndGlyphs" text-anchor="middle">30</text>
<text x="208.5" y="590.7" font-size="11.5" fill="#131722" textLength="31.0" lengthAdjust="spacingAndGlyphs" text-anchor="middle">12:00</text>
<text x="276.5" y="590.7" font-size="11.5" fill="#131722" textLength="13.8" lengthAdjust="spacingAndGlyphs" text-anchor="middle">31</text>
<text x="346" y="590.7" font-size="11.5" fill="#131722" textLength="31.0" lengthAdjust="spacingAndGlyphs" text-anchor="middle">12:00</text>
<text x="484" y="590.7" font-size="11.5" fill="#131722" textLength="31.0" lengthAdjust="spacingAndGlyphs" text-anchor="middle">12:00</text>
<text x="553" y="590.7" font-size="11.5" fill="#131722" text-anchor="middle">2</text>
<text x="622" y="590.7" font-size="11.5" fill="#131722" textLength="31.0" lengthAdjust="spacingAndGlyphs" text-anchor="middle">12:00</text>
<text x="690.5" y="590.7" font-size="11.5" fill="#131722" text-anchor="middle">3</text>
<text x="760" y="590.7" font-size="11.5" fill="#131722" textLength="31.0" lengthAdjust="spacingAndGlyphs" text-anchor="middle">12:00</text>
<text x="828.5" y="590.7" font-size="11.5" fill="#131722" text-anchor="middle">4</text>
<text x="898" y="590.7" font-size="11.5" fill="#131722" textLength="31.0" lengthAdjust="spacingAndGlyphs" text-anchor="middle">12:00</text>
<text x="414.5" y="590.7" font-size="11.5" fill="#131722" font-weight="bold" text-anchor="middle">Ноя</text>
<text x="4.7" y="590.7" font-size="11.5" fill="#131722" text-anchor="middle">9</text>
<path d="M977.6 580.4 L985.0 580.4 L988.2 586.1 L985.0 592.0 L977.6 592.0 L974.4 586.1 Z" fill="none" stroke="#131722" stroke-width="1.2" stroke-linejoin="round"/>
<circle cx="981.3" cy="586.1" r="2.1" fill="none" stroke="#131722" stroke-width="1.2"/>
<circle cx="880" cy="560" r="9.0" fill="#ffffff" stroke="#9c2bb5" stroke-width="1.3"/>
<path d="M883.3 555.3 L877.3 560.5 L882.7 560.5 L877.5 565.0" fill="none" stroke="#9c2bb5" stroke-width="1.5" stroke-linejoin="round" stroke-linecap="round"/>
<g fill="#131722" stroke="#ffffff" stroke-width="3" paint-order="stroke" stroke-linejoin="round">
<path d="M13.3 544.2 H25 V558.8 H18.8 V550.3 H13.3 Z"/>
<circle cx="29.7" cy="547.4" r="2.9"/>
<path d="M35.2 544.2 H41.7 L36.7 558.8 H30 Z"/>
<text x="48.6" y="558.9" font-size="20" font-weight="bold" textLength="116" lengthAdjust="spacingAndGlyphs">TradingView</text>
</g>
</svg></body></html>
